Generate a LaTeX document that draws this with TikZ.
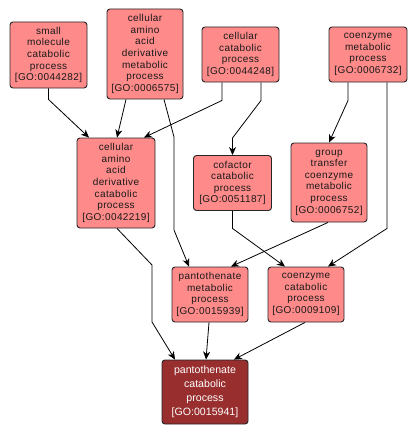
\documentclass[tikz,border=0pt]{standalone}
\usepackage{fontspec}
\setmainfont{Liberation Sans}
\newfontfamily\lsfont[LetterSpace=4]{Liberation Sans}
\usetikzlibrary{arrows.meta}
\definecolor{gopink}{HTML}{FF8A8A}
\definecolor{godark}{HTML}{982E2E}
\tikzset{
  gobox/.style={draw=black!85, line width=0.9pt, fill=gopink, rounded corners=3pt,
    inner sep=0pt, align=center, font=\lsfont\fontsize{10}{11.6}\selectfont, text=black!90},
  gomain/.style={draw=black!85, line width=0.9pt, fill=godark, rounded corners=3pt,
    inner sep=0pt, align=center, font=\fontsize{10.6}{14}\selectfont, text=white},
  edge/.style={draw=black, line width=0.8pt, -{Stealth[length=8pt,width=7pt,inset=2.5pt]}},
}
\begin{document}
\begin{tikzpicture}[x=1pt,y=-1pt]
\useasboundingbox (0,0) rectangle (416,436);
\fill[white] (0,0) rectangle (416,436);
\node[gobox, minimum width=77pt, minimum height=66pt] (n1) at (48.5,55) {small\\molecule\\catabolic\\process\\{}[GO:0044282]};
\node[gobox, minimum width=76pt, minimum height=90pt] (n2) at (145,54) {cellular\\amino\\acid\\derivative\\metabolic\\process\\{}[GO:0006575]};
\node[gobox, minimum width=77pt, minimum height=55pt] (n3) at (240.5,54.5) {cellular\\catabolic\\process\\{}[GO:0044248]};
\node[gobox, minimum width=78pt, minimum height=55pt] (n4) at (368,54.5) {coenzyme\\metabolic\\process\\{}[GO:0006732]};
\node[gobox, minimum width=78pt, minimum height=90pt] (n5) at (116,183) {cellular\\amino\\acid\\derivative\\catabolic\\process\\{}[GO:0042219]};
\node[gobox, minimum width=78pt, minimum height=55pt] (n6) at (232.5,183) {cofactor\\catabolic\\process\\{}[GO:0051187]};
\node[gobox, minimum width=76pt, minimum height=79pt] (n7) at (329,182.5) {group\\transfer\\coenzyme\\metabolic\\process\\{}[GO:0006752]};
\node[gobox, minimum width=76pt, minimum height=55pt] (n8) at (210,294.5) {pantothenate\\metabolic\\process\\{}[GO:0015939]};
\node[gobox, minimum width=76pt, minimum height=55pt] (n9) at (306,294.5) {coenzyme\\catabolic\\process\\{}[GO:0009109]};
\node[gomain, minimum width=86pt, minimum height=64pt] (n10) at (205,392) {pantothenate\\catabolic\\process\\{}[GO:0015941]};
% edges
\draw[edge] (n1.south) -- ++(0,11) -- ([xshift=-27pt]n5.north);
\draw[edge] ([xshift=-19pt]n2.south) -- ([xshift=1pt]n5.north);
\draw[edge] ([xshift=-18.5pt]n3.south) -- ++(0,18) -- ([xshift=28pt]n5.north);
\draw[edge] ([xshift=19pt]n2.south) -- (174,137) -- (174,230) -- ([xshift=-21pt]n8.north);
\draw[edge] ([xshift=20.5pt]n3.south) -- ++(0,18) -- (232.5,138) -- (n6.north);
\draw[edge] ([xshift=-20pt]n4.south) -- ++(0,18) -- (n7.north);
\draw[edge] ([xshift=19pt]n4.south) -- ++(0,146) -- ([xshift=22pt]n9.north);
\draw[edge] ([xshift=1pt]n5.south) -- (152,265) -- (152,322) -- ([xshift=-30pt]n10.north);
\draw[edge] (n6.south) -- ++(0,17.5) -- ([xshift=-21pt]n9.north);
\draw[edge] ([xshift=-1pt]n7.south) -- ([xshift=21pt]n8.north);
\draw[edge] ([xshift=-1pt]n8.south) -- ([xshift=1pt]n10.north);
\draw[edge] ([xshift=-1pt]n9.south) -- ([xshift=29pt]n10.north);
\end{tikzpicture}
\end{document}
